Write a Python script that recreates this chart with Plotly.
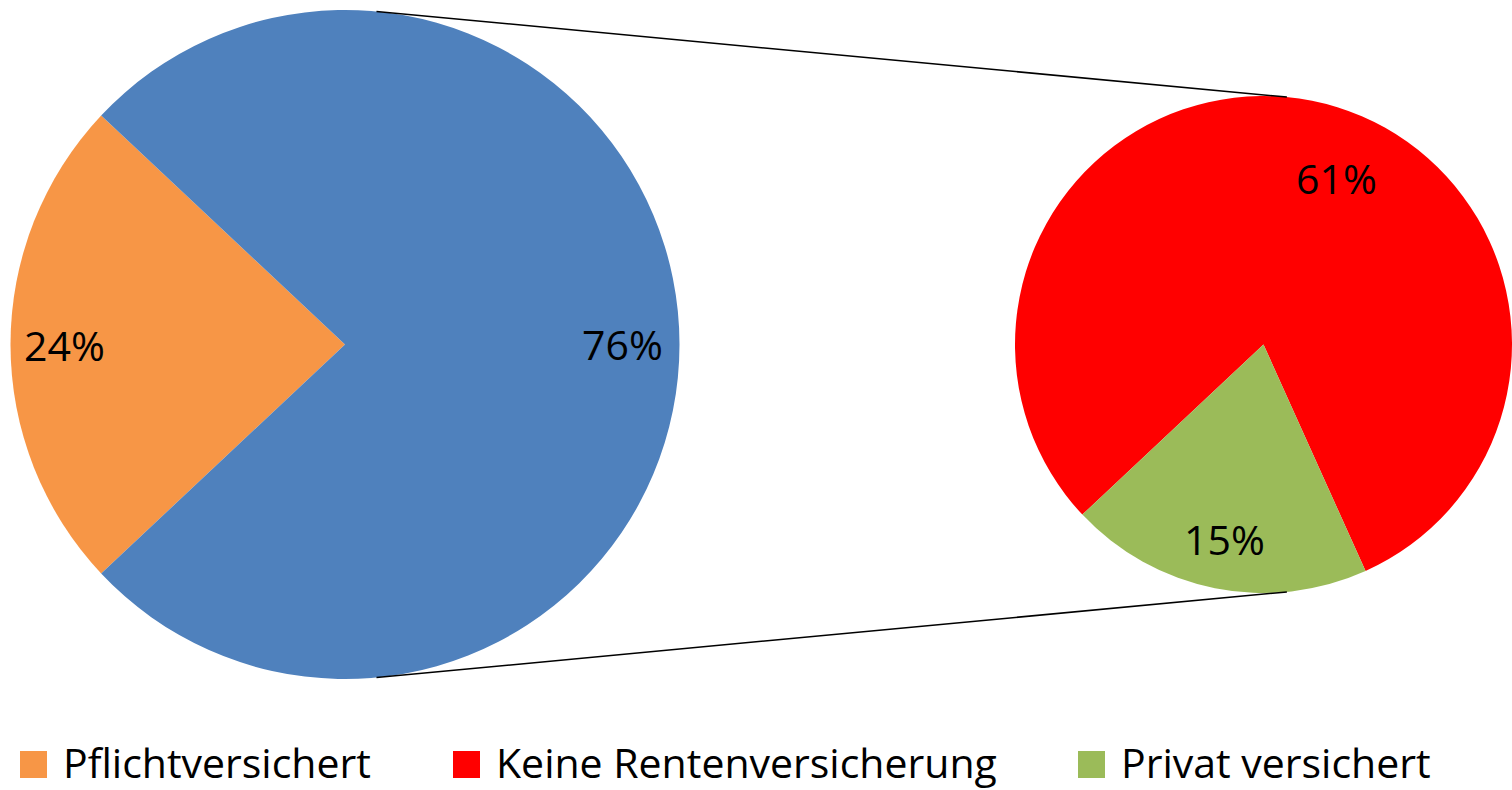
import math
import plotly.graph_objects as go

# ---------------- data ----------------
main_labels = ["Pflichtversichert", "Nicht pflichtversichert"]
main_values = [24, 76]
sub_labels = ["Keine Rentenversicherung", "Privat versichert"]
sub_values = [61, 15]
legend_labels = ["Pflichtversichert", "Keine Rentenversicherung", "Privat versichert"]

# ---------------- styles ----------------
main_colors = ["#F79646", "#4F81BD"]
sub_colors = ["#FF0000", "#9BBB59"]
legend_colors = ["#F79646", "#FF0000", "#9BBB59"]

W, H = 1512, 790
FONT = "Open Sans"
FS = 41
ROTATION = 226.8          # start angle of first slice (clockwise from 12 o'clock)
CONNECT_ANGLE = 5.4       # where the connector lines touch the circles

# pie geometry (pixels)
main_cx, main_cy, main_r = 345.0, 344.5, 334.5
sub_x0, sub_x1, sub_cy, sub_box_h = 1015.0, 1512.0, 344.5, 520.0
sub_cx = (sub_x0 + sub_x1) / 2
sub_r = min(sub_x1 - sub_x0, sub_box_h) / 2

main_label_frac = [0.84, 0.83]
sub_label_frac = [0.73, 0.80]
sub_label_shift = [12.5, 0.0]

legend_item_x = [20, 453, 1078]
legend_box = 27
legend_y_top = 751
legend_text_gap = 41
legend_text_cy = 762


def px(x):
    return x / W


def py(y):
    return 1 - y / H


fig = go.Figure()

fig.add_trace(go.Pie(
    labels=main_labels, values=main_values,
    marker=dict(colors=main_colors, line=dict(width=0)),
    sort=False, direction="clockwise", rotation=ROTATION,
    textinfo="none", showlegend=False, hoverinfo="label+value",
    domain=dict(x=[px(main_cx - main_r), px(main_cx + main_r)],
                y=[py(main_cy + main_r), py(main_cy - main_r)]),
))

fig.add_trace(go.Pie(
    labels=sub_labels, values=sub_values,
    marker=dict(colors=sub_colors, line=dict(width=0)),
    sort=False, direction="clockwise", rotation=ROTATION,
    textinfo="none", showlegend=False, hoverinfo="label+value",
    domain=dict(x=[px(sub_x0), min(1.0, px(sub_x1))],
                y=[py(sub_cy + sub_box_h / 2), py(sub_cy - sub_box_h / 2)]),
))


def on_circle(cx, cy, r, ang, frac=1.0):
    a = math.radians(ang)
    return cx + frac * r * math.sin(a), cy - frac * r * math.cos(a)


annotations = []


def add_labels(values, cx, cy, r, fracs, shifts):
    total = sum(values)
    cum = 0
    for v, f, s in zip(values, fracs, shifts):
        mid = ROTATION + 360 * (cum + v / 2) / total + s
        x, y = on_circle(cx, cy, r, mid, f)
        annotations.append(dict(
            x=px(x), y=py(y), xref="paper", yref="paper",
            text=f"{v}%", showarrow=False, xanchor="center", yanchor="middle",
            font=dict(family=FONT, size=FS, color="black"),
        ))
        cum += v


add_labels(main_values, main_cx, main_cy, main_r, main_label_frac, [0, 0])
add_labels(sub_values, sub_cx, sub_cy, sub_r, sub_label_frac, sub_label_shift)

shapes = []
for ang in (CONNECT_ANGLE, 180 - CONNECT_ANGLE):
    x0, y0 = on_circle(main_cx, main_cy, main_r, ang)
    x1, y1 = on_circle(sub_cx, sub_cy, sub_r, ang)
    shapes.append(dict(type="line", xref="paper", yref="paper",
                       x0=px(x0), y0=py(y0), x1=px(x1), y1=py(y1),
                       line=dict(color="black", width=1.5)))

# legend
for lab, col, lx in zip(legend_labels, legend_colors, legend_item_x):
    shapes.append(dict(type="rect", xref="paper", yref="paper",
                       x0=px(lx), x1=px(lx + legend_box),
                       y0=py(legend_y_top + legend_box), y1=py(legend_y_top),
                       fillcolor=col, line=dict(width=0)))
    annotations.append(dict(
        x=px(lx + legend_text_gap), y=py(legend_text_cy), xref="paper", yref="paper",
        text=lab, showarrow=False, xanchor="left", yanchor="middle",
        font=dict(family=FONT, size=FS, color="black"),
    ))

fig.update_layout(
    width=W, height=H, autosize=False,
    margin=dict(l=0, r=0, t=0, b=0),
    paper_bgcolor="white", plot_bgcolor="white",
    font=dict(family=FONT, size=FS, color="black"),
    shapes=shapes, annotations=annotations, showlegend=False,
)

fig.write_html(
    "out.html",
    config={"displayModeBar": False},
    post_script="document.body.style.margin='0';document.body.style.padding='0';"
                "document.body.style.overflow='hidden';",
)
